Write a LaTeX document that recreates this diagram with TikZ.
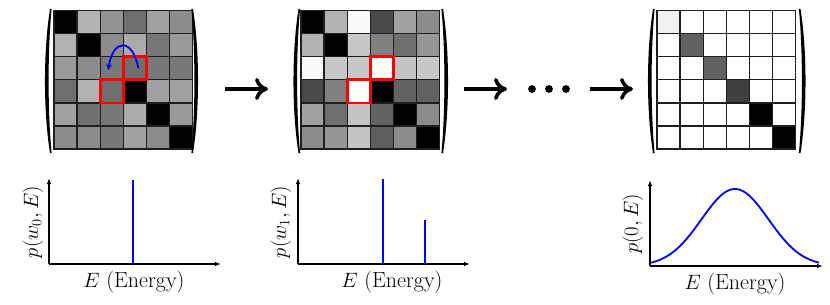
\documentclass[tikz,border=0pt]{standalone}
\usetikzlibrary{arrows.meta}
\newcommand\drawmat[3]{%
  \begin{scope}[shift={(#1,#2)}]
    \foreach \row [count=\i] in {#3} {
      \foreach \v [count=\j] in \row {
        \fill[black!\v] ({(\j-1)*23.1},{(\i-1)*23.1}) rectangle ++(23.1,23.1);
      }
    }
    \foreach \k in {0,...,6} {
      \draw[cellgrid] ({\k*23.1},0) -- ({\k*23.1},138.6);
      \draw[cellgrid] (0,{\k*23.1}) -- (138.6,{\k*23.1});
    }
  \end{scope}}
\tikzset{
  cellgrid/.style={line width=1.3pt, draw=black!88, line cap=rect},
  redbox/.style={draw=red, line width=2.8pt},
  axis/.style={line width=1.6pt, -{Latex[length=6pt,width=4.5pt]}},
  spike/.style={blue, line width=1.8pt},
  bigarrow/.style={line width=3.6pt, -{Computer Modern Rightarrow[length=13pt,width=22pt]}},
  lbl/.style={font=\fontsize{22}{26}\selectfont, inner sep=0pt},
  paren/.pic={\fill (3,-72) .. controls (-3.7,-30) and (-3.7,30) .. (3,72)
                 -- (4.6,72) .. controls (0.6,30) and (0.6,-30) .. (4.6,-72) -- cycle;}
}
\begin{document}
\begin{tikzpicture}[x=1pt,y=-1pt]
\useasboundingbox (0,0) rectangle (830,305);
% matrix 1
\drawmat{54}{10.5}{{100,30,42,57,37,45},{30,100,45,33,53,40},{40,45,53,57,53,53},{57,30,57,100,37,37},{37,56,53,33,100,40},{45,45,53,37,45,100}}
\node[inner sep=0pt, minimum size=138.6pt] (m1) at (123.3,79.8) {};
\draw[redbox] (123.3,56.7) rectangle ++(23.1,23.1);
\draw[redbox] (100.2,79.8) rectangle ++(23.1,23.1);
\coordinate (bs) at (138.3,68.3);
\coordinate (be) at (108.3,70);
\draw[blue, line width=1.8pt, -{Stealth[length=6pt,width=6pt]}] (bs) .. controls (133,38) and (113,38) .. (be);
\pic at (47,81) {paren};
\pic[xscale=-1] at (196,81) {paren};
% matrix 2
\drawmat{301}{10.5}{{100,30,2,71,37,45},{30,100,22,50,57,41},{2,22,22,0,23,22},{71,50,0,100,61,61},{37,57,23,61,100,45},{45,41,23,63,45,100}}
\node[inner sep=0pt, minimum size=138.6pt] (m2) at (370.3,79.8) {};
\draw[redbox] (370.3,56.7) rectangle ++(23.1,23.1);
\draw[redbox] (347.2,79.8) rectangle ++(23.1,23.1);
\pic at (295.5,81) {paren};
\pic[xscale=-1] at (446,81) {paren};
% matrix 3
\drawmat{657}{10.5}{{6,0,0,0,0,0},{0,62,0,0,0,0},{0,0,62,0,0,0},{0,0,0,75,0,0},{0,0,0,0,100,0},{0,0,0,0,0,100}}
\node[inner sep=0pt, minimum size=138.6pt] (m3) at (726.3,79.8) {};
\pic at (650,81) {paren};
\pic[xscale=-1] at (803.5,81) {paren};
% arrows and dots
\coordinate (a1s) at (225,89); \coordinate (a1e) at (268,89);
\coordinate (a2s) at (464,89); \coordinate (a2e) at (507,89);
\coordinate (a3s) at (590,89); \coordinate (a3e) at (633,89);
\draw[bigarrow] (a1s) -- (a1e);
\draw[bigarrow] (a2s) -- (a2e);
\draw[bigarrow] (a3s) -- (a3e);
\foreach \dx in {532,549,566} \fill (\dx,89) circle (3.9);
% plot 1
\coordinate (o1) at (49,264);
\coordinate (y1) at (49,178);
\coordinate (x1) at (221,264);
\draw[axis] (o1) -- (y1);
\draw[axis] (o1) -- (x1);
\coordinate (s1t) at (133,180); \coordinate (s1b) at (133,264);
\draw[spike] (s1b) -- (s1t);
\node[lbl] (xl1) at (134,282) {$E$ (Energy)};
\node[lbl, rotate=90] (yl1) at (33,222) {$p(w_0,E)$};
% plot 2
\coordinate (o2) at (298,264);
\coordinate (y2) at (298,178);
\coordinate (x2) at (470,264);
\draw[axis] (o2) -- (y2);
\draw[axis] (o2) -- (x2);
\coordinate (s2t) at (383,179); \coordinate (s2b) at (383,264);
\coordinate (s3t) at (425,220); \coordinate (s3b) at (425,264);
\draw[spike] (s2b) -- (s2t);
\draw[spike] (s3b) -- (s3t);
\node[lbl] (xl2) at (392,282) {$E$ (Energy)};
\node[lbl, rotate=90] (yl2) at (281,222) {$p(w_1,E)$};
% plot 3
\coordinate (o3) at (650,266);
\coordinate (y3) at (650,180);
\coordinate (x3) at (823,266);
\draw[axis] (o3) -- (y3);
\draw[axis] (o3) -- (x3);
\draw[blue, line width=1.8pt] plot[domain=651:819, samples=100, smooth] (\x,{266-77*exp(-((\x-735)^2)/2244)});
\node[lbl] (xl3) at (735,284) {$E$ (Energy)};
\node[lbl, rotate=90] (yl3) at (633,224) {$p(0,E)$};
\end{tikzpicture}
\end{document}
